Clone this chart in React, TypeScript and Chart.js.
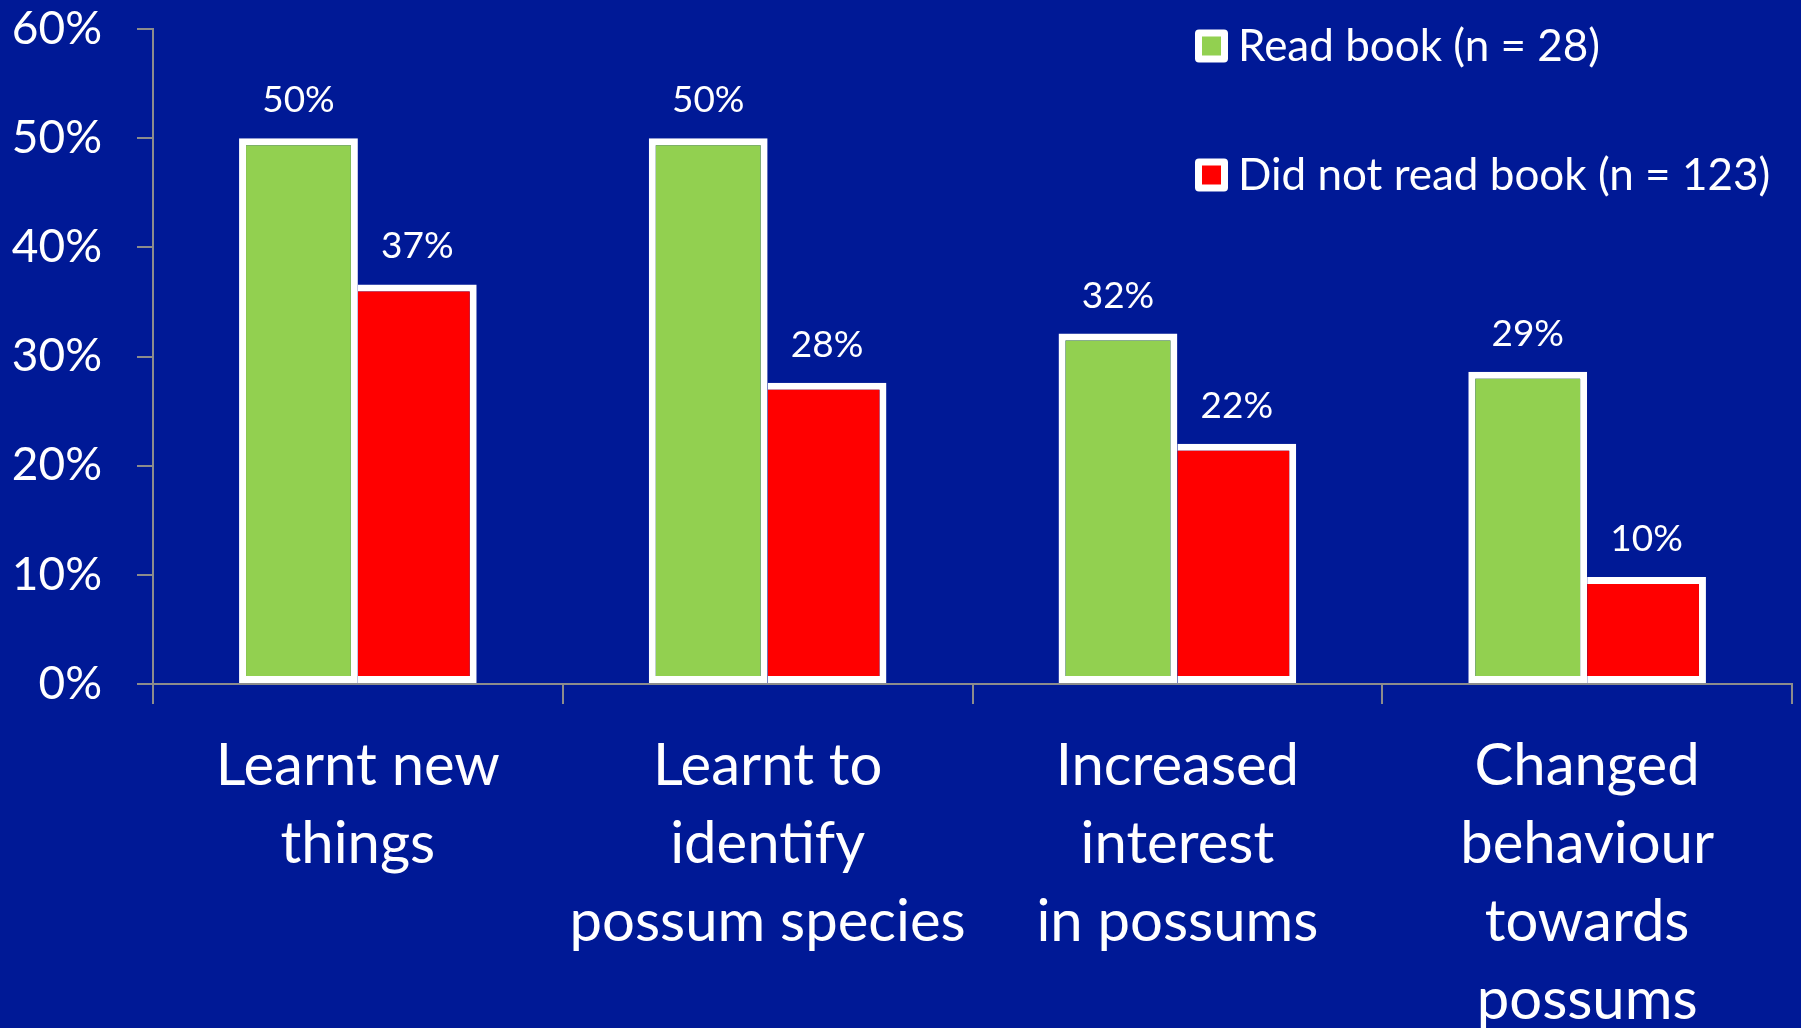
import React, { useEffect, useRef } from "react";
import { Chart, registerables } from "chart.js";

Chart.register(...registerables);

// ---- data ----
const categories: string[][] = [
  ["Learnt new", "things"],
  ["Learnt to", "identify", "possum species"],
  ["Increased", "interest", "in possums"],
  ["Changed", "behaviour", "towards", "possums"],
];
const seriesNames: string[] = ["Read book (n = 28)", "Did not read book (n = 123)"];
const readBook: number[] = [50, 50, 32.1, 28.6];
const didNotRead: number[] = [36.6, 27.6, 22.0, 9.8];
const yMin = 0;
const yMax = 60;
const yStep = 10;

// ---- style ----
const BG = "#001996";
const GREEN = "#92D050";
const RED = "#FF0000";
const AXIS = "#8c8c8c";
const FONT = "Lato, 'Open Sans', sans-serif";
const W = 1801;
const H = 1028;

const bgPlugin = {
  id: "bg",
  beforeDraw(chart: any) {
    const ctx = chart.ctx;
    ctx.save();
    ctx.fillStyle = BG;
    ctx.fillRect(0, 0, chart.width, chart.height);
    ctx.restore();
  },
};

const valueLabelPlugin = {
  id: "valueLabels",
  afterDatasetsDraw(chart: any) {
    const ctx = chart.ctx;
    ctx.save();
    ctx.fillStyle = "#ffffff";
    ctx.font = `37px ${FONT}`;
    ctx.textAlign = "center";
    ctx.textBaseline = "middle";
    chart.data.datasets.forEach((ds: any, i: number) => {
      const meta = chart.getDatasetMeta(i);
      meta.data.forEach((el: any, j: number) => {
        const v = ds.data[j] as number;
        ctx.fillText(`${Math.round(v)}%`, el.x, el.y - 38);
      });
    });
    ctx.restore();
  },
};

const customLegendPlugin = {
  id: "customLegend",
  afterDraw(chart: any) {
    const ctx = chart.ctx;
    ctx.save();
    const x0 = 1195;
    const yCenters = [46, 175];
    chart.data.datasets.forEach((ds: any, i: number) => {
      const yc = yCenters[i];
      const s = 33;
      ctx.fillStyle = "#ffffff";
      ctx.beginPath();
      (ctx as any).roundRect(x0, yc - s / 2, s, s, 4);
      ctx.fill();
      const inner = 19;
      ctx.fillStyle = ds.backgroundColor;
      ctx.fillRect(x0 + (s - inner) / 2, yc - inner / 2, inner, inner);
      ctx.fillStyle = "#ffffff";
      ctx.font = `44px ${FONT}`;
      ctx.textAlign = "left";
      ctx.textBaseline = "middle";
      ctx.fillText(ds.label, x0 + 43, yc + 1);
    });
    ctx.restore();
  },
};

export default function App() {
  const ref = useRef<HTMLCanvasElement | null>(null);

  useEffect(() => {
    document.body.style.margin = "0";
    document.body.style.background = BG;
    let chart: Chart | null = null;
    let cancelled = false;

    const build = () => {
      if (cancelled || !ref.current) return;
      chart = new Chart(ref.current, {
        type: "bar",
        data: {
          labels: categories as any,
          datasets: [
            {
              label: seriesNames[0],
              data: readBook,
              backgroundColor: GREEN,
              borderColor: "#ffffff",
              borderWidth: { top: 7, right: 7, bottom: 7, left: 7 } as any,
              borderSkipped: false,
              categoryPercentage: 0.58,
              barPercentage: 1.0,
            },
            {
              label: seriesNames[1],
              data: didNotRead,
              backgroundColor: RED,
              borderColor: "#ffffff",
              borderWidth: { top: 7, right: 7, bottom: 7, left: 0 } as any,
              borderSkipped: false,
              categoryPercentage: 0.58,
              barPercentage: 1.0,
            },
          ],
        },
        options: {
          responsive: false,
          animation: false,
          layout: { padding: { top: 29, right: 9, left: 0, bottom: 0 } },
          plugins: {
            legend: { display: false },
            tooltip: { enabled: false },
          },
          scales: {
            x: {
              grid: {
                drawOnChartArea: false,
                drawTicks: true,
                tickLength: 20,
                color: AXIS,
                lineWidth: 2,
                offset: true,
              },
              border: { color: AXIS, width: 2 },
              ticks: {
                color: "#ffffff",
                font: { family: FONT, size: 58, lineHeight: "78px" as any },
                padding: 23,
                maxRotation: 0,
                minRotation: 0,
                autoSkip: false,
              },
              afterFit: (s: any) => {
                s.height = 344;
                s.paddingLeft = 0;
                s.paddingRight = 0;
              },
            } as any,
            y: {
              min: yMin,
              max: yMax,
              ticks: {
                stepSize: yStep,
                color: "#ffffff",
                font: { family: FONT, size: 46 },
                padding: 35,
                callback: (v: any) => `${v}%`,
              },
              grid: {
                drawOnChartArea: false,
                tickLength: 16,
                color: AXIS,
                lineWidth: 2,
              },
              border: { color: AXIS, width: 2 },
              afterFit: (s: any) => {
                s.width = 153;
                s.paddingTop = 0;
                s.paddingBottom = 0;
              },
            } as any,
          },
        },
        plugins: [bgPlugin, valueLabelPlugin, customLegendPlugin],
      });
    };

    const fontsApi = (document as any).fonts;
    if (fontsApi && fontsApi.load) {
      Promise.all([
        fontsApi.load(`45px Lato`),
        fontsApi.load(`58px Lato`),
      ])
        .catch(() => null)
        .then(() => build());
    } else {
      build();
    }

    return () => {
      cancelled = true;
      if (chart) chart.destroy();
    };
  }, []);

  return (
    <div style={{ width: W, height: H, overflow: "hidden", background: BG }}>
      <canvas ref={ref} width={W} height={H} style={{ display: "block", width: W, height: H }} />
    </div>
  );
}
